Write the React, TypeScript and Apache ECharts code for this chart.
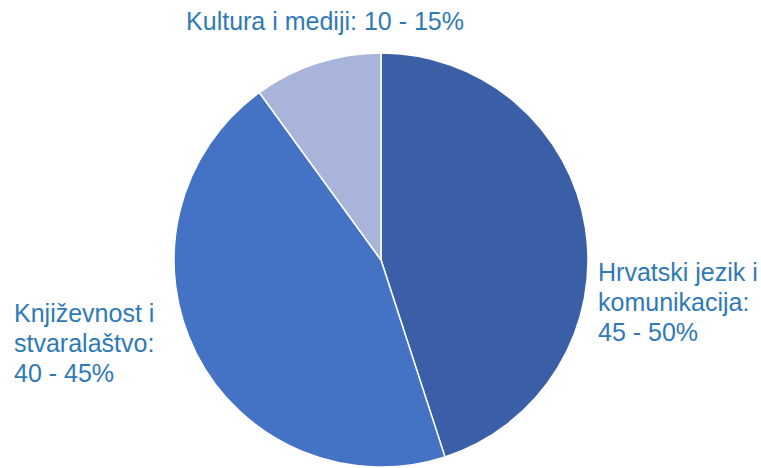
import React, { useEffect, useRef } from "react";
import * as echarts from "echarts";

const categories = ["Hrvatski jezik i komunikacija", "Književnost i stvaralaštvo", "Kultura i mediji"];
const values = [45, 45, 10];
const labelTexts = ["Hrvatski jezik i\nkomunikacija:\n45 - 50%", "Književnost i\nstvaralaštvo:\n40 - 45%", "Kultura i mediji: 10 - 15%"];
const colors = ["#3a5fa6", "#4472c4", "#a8b4da"];
const labelPos = [
  { x: 598, y: 302, align: "left" },
  { x: 14, y: 343, align: "left" },
  { x: 325, y: 21, align: "center" },
];

export default function App() {
  const ref = useRef<HTMLDivElement>(null);
  useEffect(() => {
    if (!ref.current) return;
    const chart = echarts.init(ref.current, null, { renderer: "svg" });
    chart.setOption({
      animation: false,
      backgroundColor: "#ffffff",
      series: [
        {
          type: "pie",
          center: [381, 260],
          radius: 207,
          startAngle: 90,
          clockwise: true,
          avoidLabelOverlap: false,
          itemStyle: { borderColor: "#ffffff", borderWidth: 1.5 },
          label: {
            show: true,
            position: "outside",
            color: "#2f79b9",
            fontSize: 25,
            lineHeight: 30,
            fontFamily: "Liberation Sans, Arial, sans-serif",
            formatter: (p: any) => labelTexts[p.dataIndex],
          },
          labelLine: { show: false },
          labelLayout: (p: any) => {
            const lp = labelPos[p.dataIndex];
            return { x: lp.x, y: lp.y, align: lp.align, verticalAlign: "middle", hideOverlap: false };
          },
          data: categories.map((c, i) => ({ name: c, value: values[i], itemStyle: { color: colors[i] } })),
        },
      ],
    });
    return () => chart.dispose();
  }, []);
  return <div ref={ref} style={{ position: "fixed", left: 0, top: 0, width: 761, height: 468 }} />;
}
